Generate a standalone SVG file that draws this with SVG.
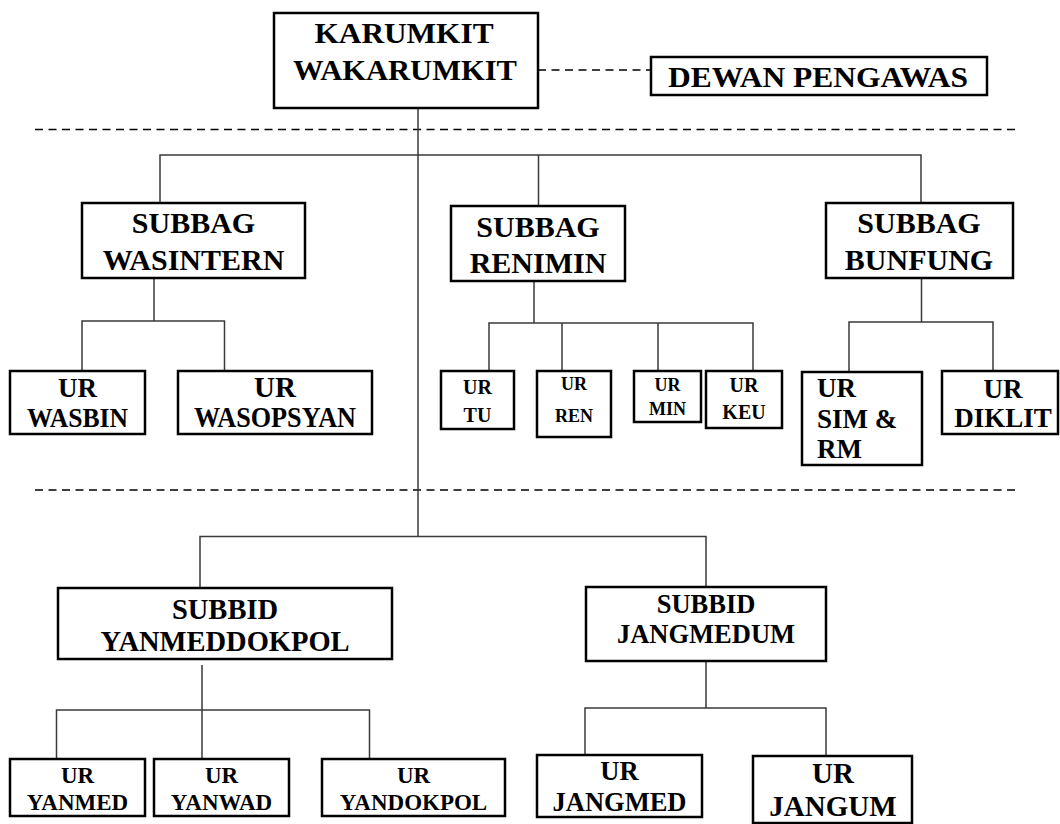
<svg xmlns="http://www.w3.org/2000/svg" width="1060" height="824" viewBox="0 0 1060 824">
<style>
.box{fill:#fff;stroke:#000;stroke-width:2.5}
.t{font-family:"Liberation Serif","Times New Roman",serif;font-weight:bold;fill:#000;text-anchor:middle}
.ts{font-family:"Liberation Serif","Times New Roman",serif;font-weight:bold;fill:#000;text-anchor:start}
.ln{stroke:#3a3a3a;stroke-width:1.5;fill:none}
.dash{stroke:#000;stroke-width:1.6;stroke-dasharray:8 5.5;fill:none}
</style>
<rect width="1060" height="824" fill="#fff"/>
<g id="connectors">
<line class="dash" x1="35" y1="129.5" x2="1020" y2="129.5"/>
<line class="dash" x1="35" y1="490" x2="1020" y2="490"/>
<line class="dash" x1="538" y1="70" x2="651" y2="70"/>
<line class="ln" x1="418" y1="108" x2="418" y2="537"/>
<polyline class="ln" points="160,203 160,155 921,155 921,203"/>
<line class="ln" x1="538.5" y1="155" x2="538.5" y2="206"/>
<line class="ln" x1="154" y1="278" x2="154" y2="321"/>
<polyline class="ln" points="82,371 82,321 224.5,321 224.5,371"/>
<line class="ln" x1="534" y1="281" x2="534" y2="323"/>
<polyline class="ln" points="489,371 489,323 753,323 753,371"/>
<line class="ln" x1="562" y1="323" x2="562" y2="371"/>
<line class="ln" x1="658" y1="323" x2="658" y2="371"/>
<line class="ln" x1="921.5" y1="278" x2="921.5" y2="322"/>
<polyline class="ln" points="849,371 849,322 993,322 993,371"/>
<polyline class="ln" points="200,588 200,536.5 706,536.5 706,587"/>
<line class="ln" x1="202" y1="665" x2="202" y2="760"/>
<polyline class="ln" points="56.5,760 56.5,710 369.5,710 369.5,760"/>
<line class="ln" x1="706" y1="661" x2="706" y2="708"/>
<polyline class="ln" points="585,755 585,708 826,708 826,755"/>
</g>
<g id="karumkit">
<rect class="box" x="274" y="13" width="264" height="95"/>
<text class="t" x="404" y="43" font-size="30" textLength="179" lengthAdjust="spacingAndGlyphs">KARUMKIT</text>
<text class="t" x="405" y="80" font-size="30" textLength="224" lengthAdjust="spacingAndGlyphs">WAKARUMKIT</text>
</g>
<g id="dewan">
<rect class="box" x="651" y="57" width="336" height="38"/>
<text class="t" x="818" y="87" font-size="30" textLength="300" lengthAdjust="spacingAndGlyphs">DEWAN PENGAWAS</text>
</g>
<g id="subbag-wasintern">
<rect class="box" x="82" y="203" width="223" height="75"/>
<text class="t" x="193.5" y="233" font-size="30">SUBBAG</text>
<text class="t" x="193.5" y="270" font-size="30">WASINTERN</text>
</g>
<g id="subbag-renimin">
<rect class="box" x="451" y="206" width="174" height="75"/>
<text class="t" x="538" y="236.5" font-size="30">SUBBAG</text>
<text class="t" x="538" y="273" font-size="30">RENIMIN</text>
</g>
<g id="subbag-bunfung">
<rect class="box" x="826" y="203" width="187" height="75"/>
<text class="t" x="919" y="233" font-size="30">SUBBAG</text>
<text class="t" x="919" y="270" font-size="30">BUNFUNG</text>
</g>
<g id="ur-wasbin">
<rect class="box" x="10" y="371" width="135" height="63"/>
<text class="t" x="77.5" y="397" font-size="27">UR</text>
<text class="t" x="77.5" y="427" font-size="27" textLength="101" lengthAdjust="spacingAndGlyphs">WASBIN</text>
</g>
<g id="ur-wasopsyan">
<rect class="box" x="178" y="371" width="194" height="63"/>
<text class="t" x="275" y="397" font-size="29">UR</text>
<text class="t" x="275" y="427" font-size="29" textLength="162" lengthAdjust="spacingAndGlyphs">WASOPSYAN</text>
</g>
<g id="ur-tu">
<rect class="box" x="441" y="371" width="73" height="58"/>
<text class="t" x="477.5" y="394" font-size="20">UR</text>
<text class="t" x="477.5" y="421.5" font-size="20">TU</text>
</g>
<g id="ur-ren">
<rect class="box" x="537" y="371" width="74" height="66"/>
<text class="t" x="574" y="390" font-size="18">UR</text>
<text class="t" x="574" y="422" font-size="18">REN</text>
</g>
<g id="ur-min">
<rect class="box" x="634" y="371" width="67" height="51"/>
<text class="t" x="667.5" y="391" font-size="18">UR</text>
<text class="t" x="667.5" y="415" font-size="18">MIN</text>
</g>
<g id="ur-keu">
<rect class="box" x="706" y="371" width="76" height="57"/>
<text class="t" x="744" y="391.5" font-size="20">UR</text>
<text class="t" x="744" y="419" font-size="20">KEU</text>
</g>
<g id="ur-sim-rm">
<rect class="box" x="802" y="372" width="120" height="93"/>
<text class="ts" x="817" y="397" font-size="27">UR</text>
<text class="ts" x="817" y="428" font-size="27">SIM &amp;</text>
<text class="ts" x="817" y="458" font-size="27">RM</text>
</g>
<g id="ur-diklit">
<rect class="box" x="942" y="371" width="116" height="63"/>
<text class="t" x="1003" y="397.5" font-size="27">UR</text>
<text class="t" x="1003" y="426.5" font-size="27">DIKLIT</text>
</g>
<g id="subbid-yanmeddokpol">
<rect class="box" x="58" y="588" width="334" height="71"/>
<text class="t" x="225" y="619" font-size="28.5">SUBBID</text>
<text class="t" x="225" y="651" font-size="28.5">YANMEDDOKPOL</text>
</g>
<g id="subbid-jangmedum">
<rect class="box" x="586" y="587" width="240" height="74"/>
<text class="t" x="706" y="613.3" font-size="26.5">SUBBID</text>
<text class="t" x="706" y="643.3" font-size="26.5">JANGMEDUM</text>
</g>
<g id="ur-yanmed">
<rect class="box" x="10" y="759" width="135" height="57"/>
<text class="t" x="77.5" y="783" font-size="23">UR</text>
<text class="t" x="77.5" y="810" font-size="23">YANMED</text>
</g>
<g id="ur-yanwad">
<rect class="box" x="154" y="759" width="135" height="57"/>
<text class="t" x="221.5" y="783" font-size="23">UR</text>
<text class="t" x="221.5" y="810" font-size="23">YANWAD</text>
</g>
<g id="ur-yandokpol">
<rect class="box" x="322" y="759" width="183" height="57"/>
<text class="t" x="413.5" y="783" font-size="23">UR</text>
<text class="t" x="413.5" y="810" font-size="23">YANDOKPOL</text>
</g>
<g id="ur-jangmed">
<rect class="box" x="537" y="755" width="165" height="62"/>
<text class="t" x="619.5" y="780" font-size="26.5">UR</text>
<text class="t" x="619.5" y="811" font-size="26.5">JANGMED</text>
</g>
<g id="ur-jangum">
<rect class="box" x="753" y="756" width="159" height="67"/>
<text class="t" x="833" y="783" font-size="29">UR</text>
<text class="t" x="833" y="816" font-size="29">JANGUM</text>
</g>
</svg>
